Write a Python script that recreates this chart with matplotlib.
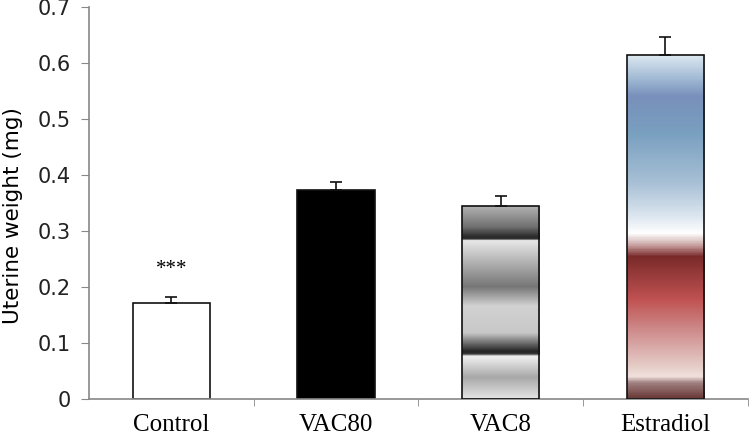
import numpy as np
from matplotlib import pyplot as plt
from matplotlib.colors import LinearSegmentedColormap
from matplotlib.patches import Rectangle

# data
groups = ["Control", "VAC80", "VAC8", "Estradiol"]
means = [0.171, 0.374, 0.345, 0.615]
errors = [0.012, 0.014, 0.017, 0.032]
yticks = [0, 0.1, 0.2, 0.3, 0.4, 0.5, 0.6, 0.7]

# fills: plain colours or gradient stops (fraction from bar bottom, colour)
gray_stops = [(0.0, "#e4e4e4"), (0.11, "#a8a8a8"), (0.22, "#f2f2f2"),
              (0.232, "#303030"), (0.245, "#252525"), (0.34, "#c8c8c8"),
              (0.48, "#d2d2d2"), (0.58, "#767676"), (0.82, "#e8e8e8"),
              (0.828, "#2a2a2a"), (0.84, "#2c2c2c"), (0.89, "#707070"),
              (1.0, "#b4b4b4")]
estr_stops = [(0.0, "#6a3a38"), (0.044, "#a08080"), (0.063, "#f0e0dc"),
              (0.092, "#e6cdc8"), (0.19, "#d09090"), (0.287, "#c05252"),
              (0.413, "#7a2a2a"), (0.445, "#c8a0a0"), (0.48, "#ffffff"),
              (0.53, "#dce6ef"), (0.627, "#a8c0d6"), (0.77, "#7aa0c0"),
              (0.88, "#7890bb"), (0.94, "#a8c0d8"), (1.0, "#dde8f0")]
fills = ["white", "black", gray_stops, estr_stops]

fig = plt.figure(figsize=(7.5, 4.37), dpi=100)
ax = fig.add_axes([0.1187, 0.087, 0.878, 0.897])

x = np.arange(len(groups))
width = 0.47

for i in range(len(groups)):
    fill = fills[i]
    x0 = x[i] - width / 2
    if isinstance(fill, str):
        ax.bar(x[i], means[i], width=width, color=fill, edgecolor="#111111",
               linewidth=1.2, zorder=2)
    else:
        cmap = LinearSegmentedColormap.from_list("g%d" % i, fill)
        grad = np.linspace(0, 1, 400).reshape(-1, 1)
        im = ax.imshow(grad, cmap=cmap, origin="lower", aspect="auto",
                       extent=(x0, x0 + width, 0, means[i]), zorder=2,
                       interpolation="bilinear")
        rect = Rectangle((x0, 0), width, means[i], facecolor="none",
                         edgecolor="#111111", linewidth=1.2, zorder=3)
        ax.add_patch(rect)
        im.set_clip_path(rect)

ax.errorbar(x, means, yerr=[np.zeros(len(errors)), errors], fmt="none",
            ecolor="#111111", elinewidth=1.2, capsize=4.5, capthick=1.2, zorder=4)

ax.text(x[0], 0.232, "***", ha="center", va="center", fontsize=15,
        family="Liberation Serif")

ax.set_xlim(-0.5, 3.5)
ax.set_ylim(0, 0.7)
ax.set_yticks(yticks)
ax.set_yticklabels([("%g" % v) for v in yticks], fontsize=15,
                   family="DejaVu Sans", color="#222222")
ax.set_xticks(x)
ax.set_xticklabels(groups, fontsize=18, family="Liberation Serif")
ax.set_xticks([0.5, 1.5, 2.5, 3.5], minor=True)
ax.tick_params(axis="x", which="major", length=0, pad=11)
ax.tick_params(axis="x", which="minor", length=5, color="#888888", direction="out")
ax.tick_params(axis="y", length=6, color="#888888", direction="out", pad=7)
ax.set_ylabel("Uterine weight (mg)", fontsize=15.5, family="DejaVu Sans")
ax.yaxis.set_label_coords(-0.1, 0.467)

for s in ["top", "right"]:
    ax.spines[s].set_visible(False)
for s in ["left", "bottom"]:
    ax.spines[s].set_color("#888888")
    ax.spines[s].set_linewidth(1.2)

fig.savefig("out.png", dpi=100)
